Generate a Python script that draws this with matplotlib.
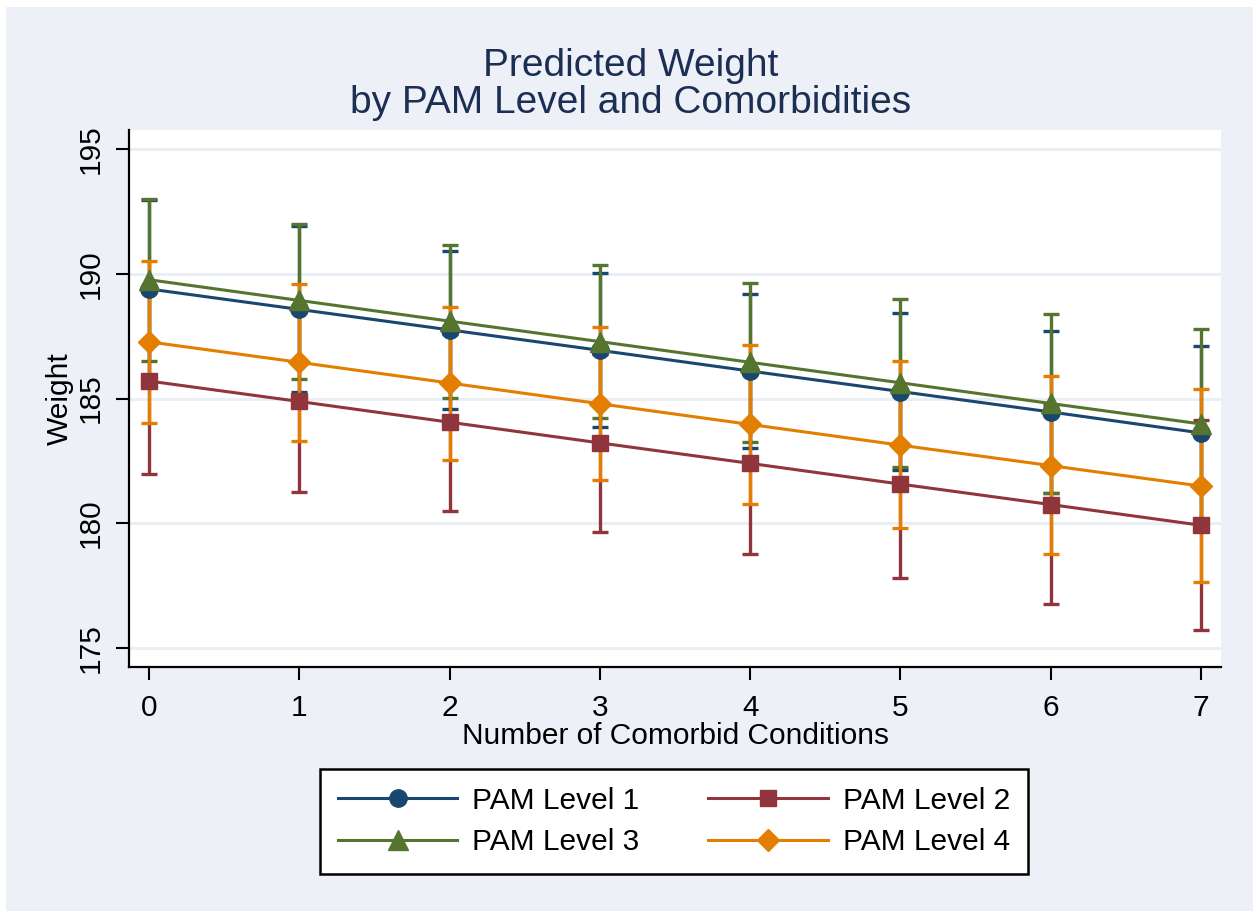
import numpy as np
import matplotlib
matplotlib.use('Agg')
import matplotlib.pyplot as plt
from matplotlib.patches import Rectangle

plt.rcParams['font.family'] = ['Liberation Sans', 'DejaVu Sans']

# Margins: predicted weight with 95% CI by number of comorbid conditions
conditions = np.arange(8)

pam1_est = [189.39, 188.57, 187.75, 186.93, 186.10, 185.28, 184.46, 183.62]
pam1_lo = [185.85, 185.26, 184.57, 183.84, 183.00, 182.13, 181.20, 180.12]
pam1_hi = [192.94, 191.92, 190.91, 190.01, 189.18, 188.42, 187.72, 187.12]

pam2_est = [185.70, 184.88, 184.05, 183.22, 182.40, 181.57, 180.75, 179.92]
pam2_lo = [181.97, 181.25, 180.50, 179.65, 178.77, 177.80, 176.78, 175.72]
pam2_hi = [189.43, 188.50, 187.60, 186.80, 186.03, 185.35, 184.72, 184.13]

pam3_est = [189.76, 188.93, 188.10, 187.28, 186.45, 185.63, 184.80, 183.98]
pam3_lo = [186.52, 185.80, 185.04, 184.20, 183.27, 182.27, 181.22, 180.15]
pam3_hi = [192.98, 192.00, 191.15, 190.33, 189.62, 188.98, 188.37, 187.80]

pam4_est = [187.27, 186.45, 185.62, 184.79, 183.96, 183.13, 182.31, 181.49]
pam4_lo = [184.03, 183.30, 182.54, 181.72, 180.77, 179.82, 178.77, 177.63]
pam4_hi = [190.52, 189.60, 188.68, 187.88, 187.16, 186.52, 185.91, 185.37]

labels = ['PAM Level 1', 'PAM Level 2', 'PAM Level 3', 'PAM Level 4']
colors = ['#1a476f', '#90353b', '#55752f', '#e37e00']
markers = ['o', 's', '^', 'D']
msizes = [12.5, 12, 14, 11.5]

series = [
    (pam1_est, pam1_lo, pam1_hi),
    (pam2_est, pam2_lo, pam2_hi),
    (pam3_est, pam3_lo, pam3_hi),
    (pam4_est, pam4_lo, pam4_hi),
]

bg = '#edf1f7'
W, H = 1253, 911
fig = plt.figure(figsize=(W / 100, H / 100), dpi=100, facecolor='white')
fig.patches.append(Rectangle((6 / W, 0), 1 - 6 / W, 1 - 7 / H, transform=fig.transFigure,
                             facecolor=bg, edgecolor='none', zorder=-1))

ax = fig.add_axes([129 / W, 1 - 667 / H, (1221 - 129) / W, (667 - 130) / H])
ax.set_facecolor('white')

# confidence intervals first, then the lines and markers on top
for i, (est, lo, hi) in enumerate(series):
    est = np.array(est)
    err = [est - np.array(lo), np.array(hi) - est]
    ax.errorbar(conditions, est, yerr=err, fmt='none', ecolor=colors[i],
                elinewidth=2.4, capsize=6, capthick=2.4, zorder=2 + i * 0.1)

handles = []
for i, (est, lo, hi) in enumerate(series):
    ln, = ax.plot(conditions, est, color=colors[i], lw=2.2, marker=markers[i],
                  ms=msizes[i], mfc=colors[i], mec=colors[i],
                  label=labels[i], zorder=3 + i * 0.1)
    handles.append(ln)

ax.set_xlim(-0.133, 7.133)
ax.set_ylim(174.24, 195.76)
ax.set_xticks(conditions)
ax.set_yticks([175, 180, 185, 190, 195])
ax.grid(axis='y', color='#eaeff5', lw=2.2)
ax.set_axisbelow(True)

for side in ['top', 'right']:
    ax.spines[side].set_visible(False)
for side in ['left', 'bottom']:
    ax.spines[side].set_linewidth(1.6)
    ax.spines[side].set_color('black')

ax.tick_params(axis='both', direction='out', length=9.5, width=1.5, labelsize=21.5)
ax.tick_params(axis='x', pad=10)
ax.tick_params(axis='y', pad=8)
for lab in ax.get_yticklabels():
    lab.set_rotation(90)
    lab.set_va('center')

ax.set_xlabel('Number of Comorbid Conditions', fontsize=21.5, labelpad=0)
ax.set_ylabel('Weight', fontsize=21.5, labelpad=2)

fig.text(0.503, 1 - 113 / H, 'Predicted Weight\nby PAM Level and Comorbidities',
         ha='center', va='baseline', fontsize=28, color='#1c2e52', linespacing=1.05)

# legend fills row by row: 1, 2 / 3, 4
order = [0, 2, 1, 3]
leg = fig.legend(handles=[handles[k] for k in order], ncol=2, loc='upper center',
                 bbox_to_anchor=(674 / W, 1 - 769 / H), bbox_transform=fig.transFigure,
                 fontsize=21.5, frameon=True, fancybox=False, edgecolor='black',
                 framealpha=1, handlelength=4, handletextpad=0.5, columnspacing=2.3,
                 labelspacing=0.45, borderpad=0.6, borderaxespad=0)
leg.get_frame().set_linewidth(1.8)
leg.get_frame().set_facecolor('white')

fig.savefig('out.png', dpi=100, facecolor=fig.get_facecolor())
